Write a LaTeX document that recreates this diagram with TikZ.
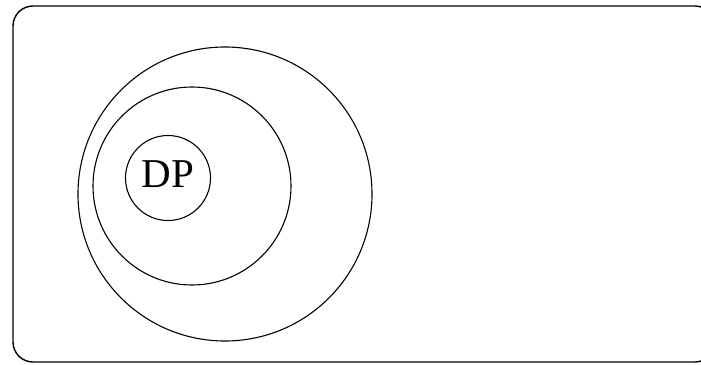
\documentclass[tikz,border=0pt]{standalone}
\usepackage{fontspec}
\setmainfont{Liberation Serif}
\usetikzlibrary{positioning}

\begin{document}
\begin{tikzpicture}[
    x=1pt, y=-1pt,
    frame/.style={draw, line width=1.4pt, rounded corners=20pt},
    ring/.style={circle, draw, line width=1.1pt, inner sep=0pt},
    every node/.style={font=\fontsize{41}{44}\selectfont}
]
\useasboundingbox (0,0) rectangle (701,364);

\draw[frame] (13,6) rectangle (715,362);

\node[ring, minimum size=294pt] (outer) at (225,194) {};
\node[ring, minimum size=198pt] (middle) at (192,186) {};
\node[ring, minimum size=85pt, text depth=8pt] (dp) at (168,178) {DP};

\end{tikzpicture}
\end{document}
